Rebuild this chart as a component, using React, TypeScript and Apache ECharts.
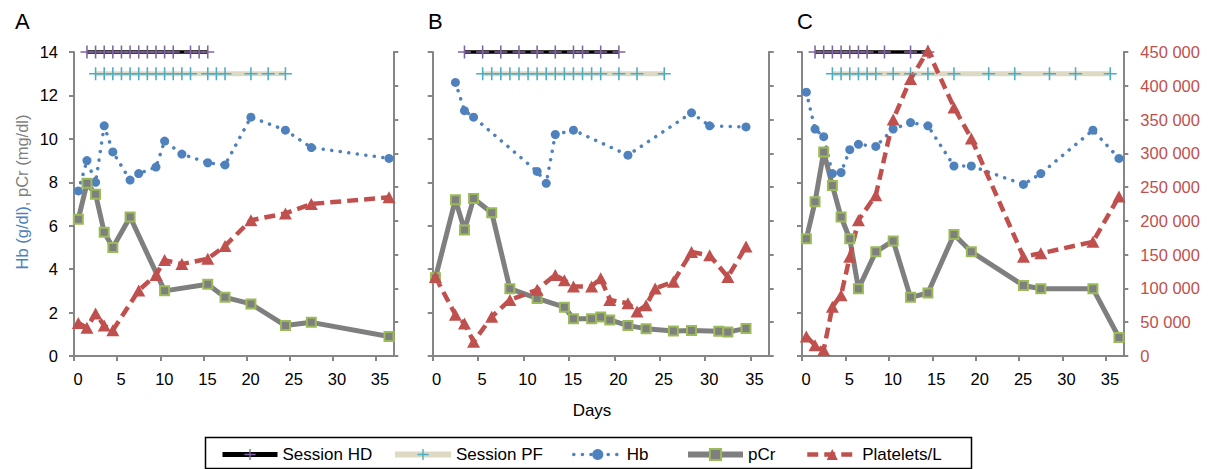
import React, { useEffect, useRef } from 'react';
import * as echarts from 'echarts';

// ---------- data ----------
const xTickValues = [0, 5, 10, 15, 20, 25, 30, 35];
const seriesNames = ['Session HD', 'Session PF', 'Hb', 'pCr', 'Platelets/L'];
const hdLevel = 14;
const pfLevel = 13;

// Panel A
const hdDaysA = [1.5, 2.5, 3.5, 4.5, 5.5, 6.5, 7.5, 8.5, 9.5, 10.5, 11.5, 13.5, 14.5, 15.5];
const pfDaysA = [2.5, 3.5, 4.5, 5.5, 6.5, 7.5, 8.5, 9.5, 10.5, 11.5, 12.5, 13.5, 15.5, 16.5, 17.5, 20.5, 22.5, 24.5];
const hbA = [[0.5, 7.6], [1.5, 9.0], [2.5, 8.0], [3.5, 10.6], [4.5, 9.4], [6.5, 8.1], [7.5, 8.4], [9.5, 8.7], [10.5, 9.9], [12.5, 9.3], [15.5, 8.9], [17.5, 8.8], [20.5, 11.0], [24.5, 10.4], [27.5, 9.6], [36.5, 9.1]];
const pcrA = [[0.5, 6.3], [1.5, 7.95], [2.5, 7.45], [3.5, 5.7], [4.5, 5.0], [6.5, 6.4], [10.5, 3.0], [15.5, 3.3], [17.5, 2.7], [20.5, 2.4], [24.5, 1.4], [27.5, 1.55], [36.5, 0.9]];
const pltA = [[0.5, 49000], [1.5, 42000], [2.5, 63000], [3.5, 45000], [4.5, 38000], [7.5, 97000], [9.5, 120000], [10.5, 142000], [12.5, 136000], [15.5, 144000], [17.5, 163000], [20.5, 201000], [24.5, 211000], [27.5, 225000], [36.5, 235000]];

// Panel B
const hdDaysB = [3.5, 5.5, 7.5, 9.5, 11.5, 13.5, 15.5, 16.5, 18.5, 20.5];
const pfDaysB = [5.5, 6.5, 7.5, 8.5, 9.5, 10.5, 11.5, 12.5, 13.5, 14.5, 15.5, 16.5, 17.5, 18.5, 20.5, 22.5, 25.5];
const hbB = [[2.5, 12.6], [3.5, 11.3], [4.5, 11.0], [11.5, 8.5], [12.5, 7.95], [13.5, 10.2], [15.5, 10.4], [21.5, 9.25], [28.5, 11.2], [30.5, 10.6], [34.5, 10.55]];
const pcrB = [[0.3, 3.6], [2.5, 7.2], [3.5, 5.8], [4.5, 7.25], [6.5, 6.6], [8.5, 3.1], [11.5, 2.65], [14.5, 2.25], [15.5, 1.72], [17.5, 1.72], [18.5, 1.8], [19.5, 1.66], [21.5, 1.4], [23.5, 1.26], [26.5, 1.15], [28.5, 1.18], [31.5, 1.14], [32.5, 1.1], [34.5, 1.27]];
const pltB = [[0.3, 117000], [2.5, 61000], [3.5, 48000], [4.5, 21000], [6.5, 58000], [8.5, 83000], [11.5, 98000], [13.5, 120000], [14.5, 112000], [15.5, 103000], [17.5, 103000], [18.5, 115000], [19.5, 83000], [21.5, 78000], [22.5, 66000], [23.5, 75000], [24.5, 100000], [26.5, 110000], [28.5, 154000], [30.5, 149000], [32.5, 117000], [34.5, 162000]];

// Panel C
const hdDaysC = [1.5, 2.5, 3.5, 4.5, 5.5, 6.5, 7.5, 9.5, 12.5, 14.5];
const pfDaysC = [3.5, 4.5, 5.5, 6.5, 7.5, 8.5, 10.5, 12.5, 14.5, 17.5, 21.5, 24.5, 28.5, 31.5, 35.5];
const hbC = [[0.5, 12.15], [1.5, 10.45], [2.5, 10.1], [3.5, 8.4], [4.5, 8.45], [5.5, 9.5], [6.5, 9.75], [8.5, 9.65], [10.5, 10.45], [12.5, 10.75], [14.5, 10.6], [17.5, 8.75], [19.5, 8.75], [25.5, 7.9], [27.5, 8.4], [33.5, 10.4], [36.5, 9.1]];
const pcrC = [[0.5, 5.4], [1.5, 7.1], [2.5, 9.4], [3.5, 7.85], [4.5, 6.4], [5.5, 5.4], [6.5, 3.1], [8.5, 4.8], [10.5, 5.3], [12.5, 2.7], [14.5, 2.9], [17.5, 5.6], [19.5, 4.8], [25.5, 3.25], [27.5, 3.1], [33.5, 3.1], [36.5, 0.85]];
const pltC = [[0.5, 29000], [1.5, 16000], [2.5, 9000], [3.5, 73000], [4.5, 90000], [5.5, 147000], [6.5, 201000], [8.5, 238000], [10.5, 350000], [12.5, 410000], [14.5, 452000], [17.5, 368000], [19.5, 322000], [25.5, 147000], [27.5, 152000], [33.5, 169000], [36.5, 236000]];

const panelLetters = ['A', 'B', 'C'];

// ---------- styles ----------
const FONT = '"Liberation Sans", Arial, Helvetica, sans-serif';
const AXIS = '#868686';
const C_HD = '#000000';
const C_HD_MK = '#8064a2';
const C_PF = '#ddd9c3';
const C_PF_MK = '#4bacc6';
const C_HB = '#4f81bd';
const C_PCR = '#7f7f7f';
const C_PCR_MK = '#9bbb59';
const C_PLT = '#c0504d';
const PLUS = 'path://M4.4,0H5.6V4.4H10V5.6H5.6V10H4.4V5.6H0V4.4H4.4Z';

const panelLayout = [
  { left: 74, width: 319.3 },
  { left: 432.7, width: 336 },
  { left: 802, width: 321.3 },
];
const GRID_TOP = 52;
const GRID_H = 304;

const panelData = [
  { hd: hdDaysA, pf: pfDaysA, hb: hbA, pcr: pcrA, plt: pltA },
  { hd: hdDaysB, pf: pfDaysB, hb: hbB, pcr: pcrB, plt: pltB },
  { hd: hdDaysC, pf: pfDaysC, hb: hbC, pcr: pcrC, plt: pltC },
];

function buildSeries(i: number) {
  const d = panelData[i];
  const common = { type: 'line', xAxisIndex: i, clip: false, silent: true, emphasis: { disabled: true } };
  return [
    {
      ...common, name: seriesNames[0], yAxisIndex: 2 * i,
      data: d.hd.map((x) => [x, hdLevel]),
      symbol: PLUS, symbolSize: [13, 13],
      itemStyle: { color: C_HD_MK },
      lineStyle: { color: C_HD, width: 3.5 },
    },
    {
      ...common, name: seriesNames[1], yAxisIndex: 2 * i,
      data: d.pf.map((x) => [x, pfLevel]),
      symbol: PLUS, symbolSize: [13, 13],
      itemStyle: { color: C_PF_MK },
      lineStyle: { color: C_PF, width: 5 },
    },
    {
      ...common, name: seriesNames[2], yAxisIndex: 2 * i,
      data: d.hb,
      symbol: 'circle', symbolSize: 9,
      itemStyle: { color: C_HB },
      lineStyle: { color: C_HB, width: 3.5, type: [0.1, 8.5], cap: 'round' },
    },
    {
      ...common, name: seriesNames[3], yAxisIndex: 2 * i,
      data: d.pcr,
      symbol: 'rect', symbolSize: 9,
      itemStyle: { color: C_PCR, borderColor: C_PCR_MK, borderWidth: 2 },
      lineStyle: { color: C_PCR, width: 5 },
    },
    {
      ...common, name: seriesNames[4], yAxisIndex: 2 * i + 1,
      data: d.plt,
      symbol: 'triangle', symbolSize: [13, 12],
      itemStyle: { color: C_PLT },
      lineStyle: { color: C_PLT, width: 4.5, type: [11, 6] },
    },
  ];
}

const legendPos = [
  { left: 220, itemWidth: 55, lw: 5 },
  { left: 392, itemWidth: 56, lw: 6 },
  { left: 572, itemWidth: 48, lw: 3.5 },
  { left: 685, itemWidth: 55, lw: 6 },
  { left: 805, itemWidth: 50, lw: 4.5 },
];

export default function App() {
  const ref = useRef<HTMLDivElement>(null);
  useEffect(() => {
    if (!ref.current) return;
    const chart = echarts.init(ref.current, null, { renderer: 'svg' });

    const grids = panelLayout.map((p) => ({
      left: p.left, top: GRID_TOP, width: p.width, height: GRID_H,
      containLabel: false, outerBoundsMode: 'none',
    }));

    const xAxes = panelLayout.map((_, i) => ({
      type: 'value', gridIndex: i, min: 0, max: 37, interval: 5,
      axisLine: { show: true, onZero: false, lineStyle: { color: AXIS, width: 2 } },
      axisTick: { show: true, length: 5, lineStyle: { color: AXIS, width: 2 }, customValues: xTickValues },
      axisLabel: { customValues: xTickValues, fontSize: 16.5, color: '#000', fontFamily: FONT, margin: 14, padding: [0, 0, 0, 8] },
      splitLine: { show: false },
    }));

    const yAxes: any[] = [];
    panelLayout.forEach((_, i) => {
      yAxes.push({
        type: 'value', gridIndex: i, position: 'left', min: 0, max: 14, interval: 2,
        axisLine: { show: true, onZero: false, lineStyle: { color: AXIS, width: 2 } },
        axisTick: { show: true, length: 5, lineStyle: { color: AXIS, width: 2 } },
        axisLabel: { show: i === 0, fontSize: 16.5, color: '#000', fontFamily: FONT, margin: 16 },
        splitLine: { show: false },
      });
      yAxes.push({
        type: 'value', gridIndex: i, position: 'right', min: 0, max: 450000, interval: 50000,
        axisLine: { show: true, onZero: false, lineStyle: { color: AXIS, width: 2 } },
        axisTick: { show: true, length: 5, lineStyle: { color: AXIS, width: 2 } },
        axisLabel: {
          show: i === 2, fontSize: 16.5, color: C_PLT, fontFamily: FONT, margin: 17,
          formatter: (v: number) => (v === 0 ? '0' : `${Math.round(v / 1000)} 000`),
        },
        splitLine: { show: false },
      });
    });

    const legends = legendPos.map((l, k) => ({
      data: [seriesNames[k]],
      left: l.left, top: 446, padding: 0,
      itemWidth: l.itemWidth, itemHeight: 14,
      selectedMode: false,
      lineStyle: { width: l.lw },
      textStyle: { fontSize: 17, color: '#000', fontFamily: FONT },
    }));

    const graphics: any[] = [
      ...panelLetters.map((t, i) => ({
        type: 'text', left: [15, 428, 797][i], top: 10,
        style: { text: t, fontSize: 22, fill: '#000', fontFamily: FONT },
      })),
      {
        type: 'text', x: 22, y: 192, rotation: Math.PI / 2,
        style: {
          text: '{a|Hb (g/dl)}{b|, pCr (mg/dl)}',
          align: 'center', verticalAlign: 'middle',
          rich: {
            a: { fill: C_HB, fontSize: 16.5, fontFamily: FONT },
            b: { fill: C_PCR, fontSize: 16.5, fontFamily: FONT },
          },
        },
      },
      {
        type: 'text', x: 592, y: 410,
        style: { text: 'Days', align: 'center', verticalAlign: 'middle', fontSize: 17, fill: '#000', fontFamily: FONT },
      },
      {
        type: 'rect', shape: { x: 205.5, y: 437.5, width: 766, height: 31 },
        style: { fill: 'none', stroke: '#000', lineWidth: 1.5 },
      },
    ];

    chart.setOption({
      animation: false,
      backgroundColor: '#ffffff',
      textStyle: { fontFamily: FONT },
      grid: grids,
      xAxis: xAxes,
      yAxis: yAxes,
      legend: legends,
      graphic: graphics,
      series: [0, 1, 2].flatMap((i) => buildSeries(i)),
    } as any);

    return () => chart.dispose();
  }, []);

  return (
    <div
      ref={ref}
      style={{ position: 'fixed', left: 0, top: 0, width: 1217, height: 469, background: '#fff' }}
    />
  );
}
